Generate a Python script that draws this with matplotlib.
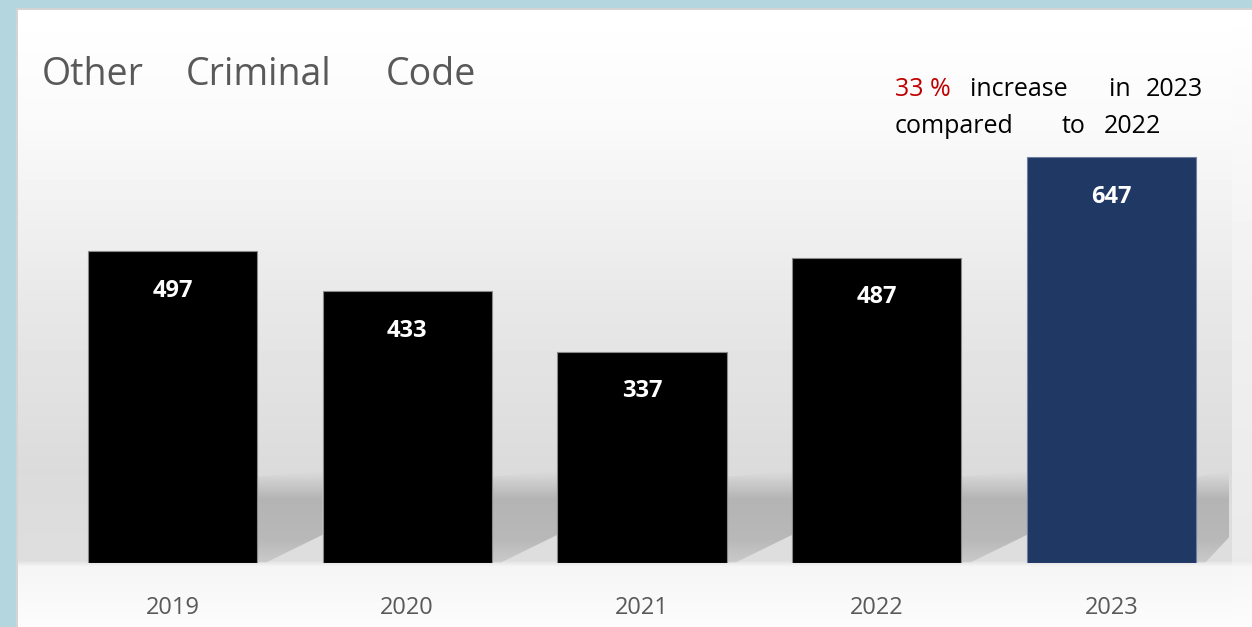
import numpy as np
import matplotlib
matplotlib.use('Agg')
import matplotlib.pyplot as plt
from matplotlib.patches import Rectangle, Polygon

plt.rcParams['font.family'] = ['Open Sans', 'DejaVu Sans']

# data
years = ['2019', '2020', '2021', '2022', '2023']
counts = [497, 433, 337, 487, 647]
bar_colors = ['#000000', '#000000', '#000000', '#000000', '#203864']
edge_colors = ['#8a8a8a', '#8a8a8a', '#8a8a8a', '#8a8a8a', '#6f7f9f']

W, H = 1252, 627
fig = plt.figure(figsize=(W / 100, H / 100), dpi=100)

# background: grey "wall" gradient + light floor, blue frame on the left/top
bg = fig.add_axes([0, 0, 1, 1], zorder=0)
yy = np.arange(H)
wall = np.interp(yy, [8, 120, 300, 470, 560, 566, 627], [255, 250, 232, 219, 222, 245, 252])
side = np.interp(yy, [8, 300, 560, 566, 627], [255, 240, 234, 246, 252])
img = np.repeat(wall[:, None], W, axis=1)
img[:, 1232:] = side[:, None]
bg.imshow(img / 255.0, cmap='gray', vmin=0, vmax=1, extent=(0, W, H, 0), aspect='auto')
bg.add_patch(Rectangle((0, 0), 16, H, color='#b4d7df', lw=0))
bg.add_patch(Rectangle((0, 0), W, 8, color='#b4d7df', lw=0))
bg.add_patch(Rectangle((16, 8), 2, H, color='#d4d4d4', lw=0))
bg.add_patch(Rectangle((16, 8), W, 2, color='#d4d4d4', lw=0))
bg.set_xlim(0, W)
bg.set_ylim(H, 0)
bg.axis('off')

ax = fig.add_axes([55 / W, 1 - 563 / H, 1174 / W, 439 / H], zorder=1)
ax.patch.set_alpha(0)
x = np.arange(len(years))
bw = 0.72

# soft shadow behind each bar
n = 120
t = np.linspace(0, 1, n)
shade = np.zeros((n, 1, 4))
shade[:, :, :3] = 0.70
shade[:, 0, 3] = np.interp(t, [0, 0.3, 0.75, 1], [0, 0.95, 0.85, 0.45])
top = 138
for i in range(len(years)):
    xr = i + bw / 2
    xn = i + 1 - bw / 2 if i < len(years) - 1 else xr + 0.15
    poly = Polygon([(xr, top), (xn, top + 8), (xn, 45), (xr + 0.04, 1), (xr, 1)],
                   closed=True, transform=ax.transData)
    im = ax.imshow(shade, extent=(xr, xn, 0, top + 8), aspect='auto', zorder=1)
    im.set_clip_path(poly)

bars = ax.bar(x, counts, width=bw, color=bar_colors, edgecolor=edge_colors, linewidth=0.8, zorder=2)
for b, v in zip(bars, counts):
    ax.annotate(str(v), (b.get_x() + b.get_width() / 2, v), xytext=(0, -33), textcoords='offset points',
                ha='center', va='baseline', color='white', fontsize=17, fontweight='bold', zorder=3)

ax.set_xlim(-0.5, 4.5)
ax.set_ylim(0, 700)
ax.set_xticks(x)
ax.set_xticklabels(years, fontsize=17, color='#595959')
ax.tick_params(axis='x', length=0, pad=24)
ax.set_yticks([])
for s in ax.spines.values():
    s.set_visible(False)

# title words
for word, px in [('Other', 42), ('Criminal', 186), ('Code', 386)]:
    fig.text(px / W, 1 - 85 / H, word, fontsize=27, color='#595959', va='baseline', ha='left')

# note top right
note1 = [('33 %', 895, '#c00000'), ('increase', 970, '#000000'), ('in', 1109, '#000000'), ('2023', 1146, '#000000')]
note2 = [('compared', 895, '#000000'), ('to', 1062, '#000000'), ('2022', 1104, '#000000')]
for word, px, c in note1:
    fig.text(px / W, 1 - 96 / H, word, fontsize=18, color=c, va='baseline', ha='left')
for word, px, c in note2:
    fig.text(px / W, 1 - 133 / H, word, fontsize=18, color=c, va='baseline', ha='left')

fig.savefig('out.png', dpi=100)
